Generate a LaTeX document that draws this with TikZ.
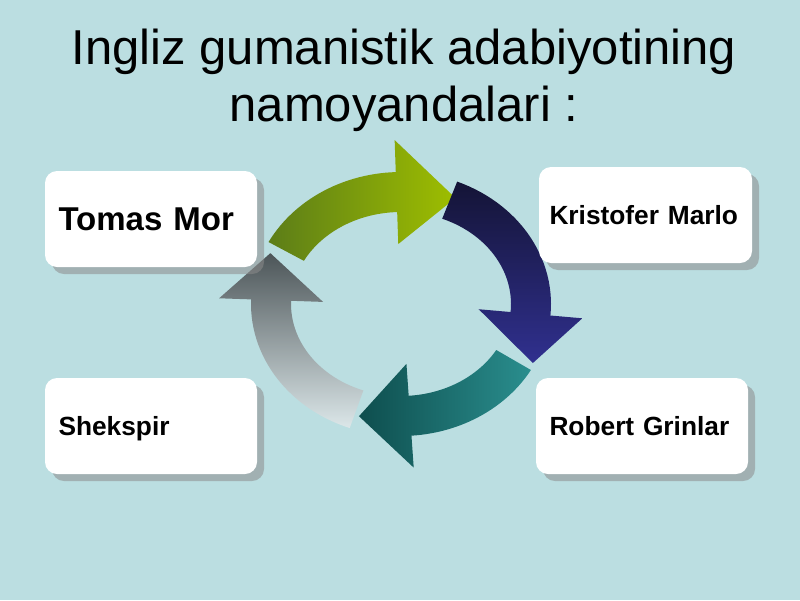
\documentclass[tikz,border=0pt]{standalone}
\usepackage{fontspec}
\setmainfont{Liberation Sans}
\usetikzlibrary{shadows}
\definecolor{bgcyan}{HTML}{BBDEE1}
\definecolor{olivedark}{HTML}{5C7D18}
\definecolor{olivelight}{HTML}{9EBE00}
\definecolor{navydark}{HTML}{141436}
\definecolor{navylight}{HTML}{30308F}
\definecolor{tealdark}{HTML}{0E4E4E}
\definecolor{teallight}{HTML}{2A8E8E}
\definecolor{greydark}{HTML}{4C5558}
\definecolor{greylight}{HTML}{DCE7E9}
% one arrow of the cycle: tail angle, head base angle, tip angle, tip push, shading
\newcommand{\cyclearrow}[5]{%
  \shade[#5] plot[domain=#1:#2,samples=30] ({401+150*cos(\x)},{304-132*sin(\x)})
    -- ({401+182*cos(#2)},{304-164*sin(#2)})
    -- ({401+(130+#4)*cos(#3)},{304-(112+#4)*sin(#3)})
    -- ({401+78*cos(#2)},{304-60*sin(#2)})
    -- plot[domain=#2:#1,samples=30] ({401+110*cos(\x)},{304-92*sin(\x)})
    -- cycle;}
\tikzset{namebox/.style={rectangle,rounded corners=12pt,fill=white,text width=185pt,
    inner xsep=13.5pt,inner ysep=0pt,minimum height=96pt,align=left,text depth=0pt,
    font=\bfseries\fontsize{26.3}{30}\selectfont,
    drop shadow={shadow xshift=7pt,shadow yshift=-7pt,fill=black!45,opacity=0.55}}}
\begin{document}
\begin{tikzpicture}[x=1pt,y=-1pt]
  \fill[bgcyan] (0,0) rectangle (800,600);
  \node (title) [align=center,inner sep=0pt,font=\fontsize{49}{57}\selectfont]
    at (404,80) {Ingliz gumanistik adabiyotining\\namoyandalari :};
  % the cycle in the middle
  \cyclearrow{152}{92}{66}{4}{left color=olivedark,right color=olivelight}
  \cyclearrow{68}{-5}{-27}{18}{top color=navydark,bottom color=navylight}
  \cyclearrow{-30}{-86}{-108}{6}{left color=tealdark,right color=teallight}
  \cyclearrow{-110}{-182}{-204}{13}{top color=greydark,bottom color=greylight}
  % names
  \node[namebox,font=\bfseries\fontsize{33}{38}\selectfont] (tomas) at (151,219) {Tomas Mor};
  \node[namebox,text width=192pt,inner xsep=10.5pt] (marlo) at (645.5,215) {Kristofer Marlo};
  \node[namebox] (shekspir) at (151,426) {Shekspir};
  \node[namebox] (grinlar) at (642,426) {Robert Grinlar};
\end{tikzpicture}
\end{document}
